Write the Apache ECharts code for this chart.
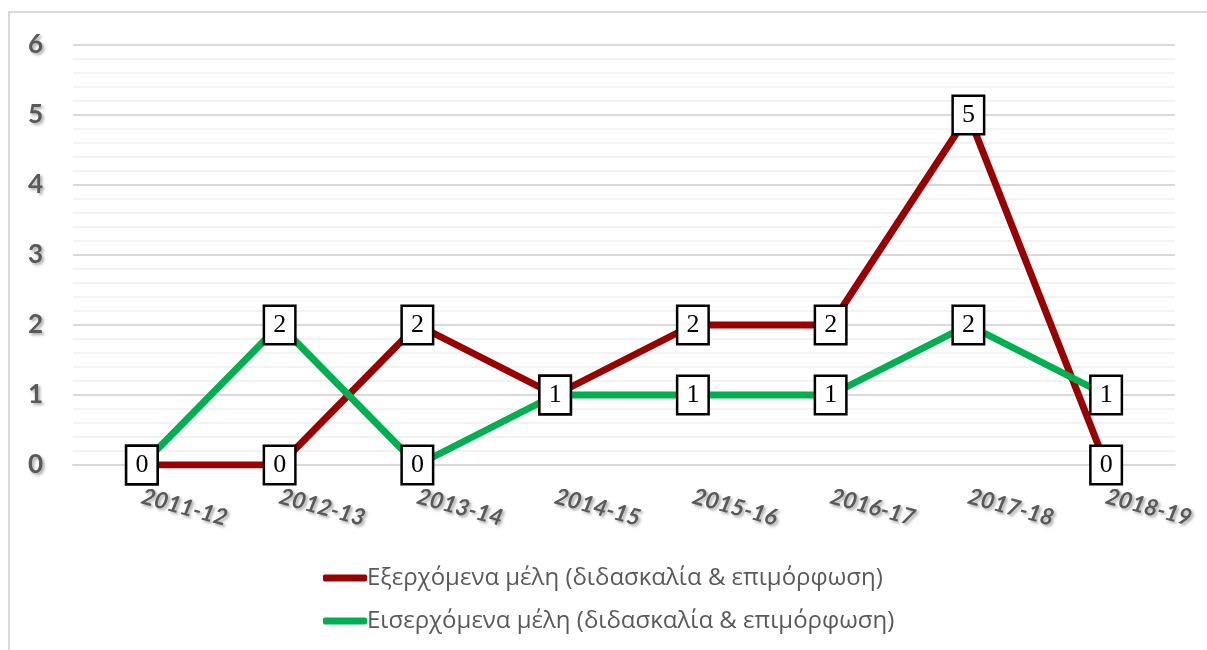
<!DOCTYPE html>
<html>
<head>
<meta charset="utf-8">
<script src="https://cdn.jsdelivr.net/npm/echarts@6/dist/echarts.min.js"></script>
<style>
  html, body { margin: 0; padding: 0; background: #fff; }
  #frame {
    position: absolute; left: 8px; top: 11px; width: 1199px; height: 639px;
    border-left: 2px solid #d9d9d9; border-top: 2px solid #d9d9d9;
  }
  #chart { position: absolute; left: 0; top: 0; width: 1207px; height: 650px; }
</style>
</head>
<body>
<div id="frame"></div>
<div id="chart"></div>
<script>
// Ακαδημαϊκά έτη
const years = ['2011-12', '2012-13', '2013-14', '2014-15', '2015-16', '2016-17', '2017-18', '2018-19']
// Εξερχόμενα / Εισερχόμενα μέλη
const outgoing = [0, 0, 2, 1, 2, 2, 5, 0]
const incoming = [0, 2, 0, 1, 1, 1, 2, 1]
const seriesNames = [
  'Εξερχόμενα μέλη (διδασκαλία & επιμόρφωση)',
  'Εισερχόμενα μέλη (διδασκαλία & επιμόρφωση)',
]

const shadow = {
  textShadowColor: 'rgba(0,0,0,0.35)',
  textShadowBlur: 3,
  textShadowOffsetX: 2,
  textShadowOffsetY: 2,
}

const boxLabel = {
  show: true,
  position: 'inside',
  fontFamily: 'Liberation Serif',
  fontSize: 26,
  lineHeight: 28,
  color: '#000',
  backgroundColor: '#fff',
  borderColor: '#000',
  borderWidth: 2.5,
  padding: [5, 8, 3, 8],
}

const makeSeries = (name, data, color, z) => ({
  name,
  type: 'line',
  data,
  z,
  symbol: 'rect',
  symbolSize: 1,
  lineStyle: { color, width: 7 },
  itemStyle: { color },
  label: boxLabel,
  emphasis: { disabled: true },
})

const myChart = echarts.init(document.getElementById('chart'))
myChart.setOption({
  animation: false,
  grid: { left: 73, right: 32, top: 45, bottom: 185 },
  xAxis: {
    type: 'category',
    data: years,
    axisLine: { show: true, lineStyle: { color: '#d9d9d9', width: 2 } },
    axisTick: { show: false },
    axisLabel: {
      rotate: -15,
      margin: 31,
      fontFamily: 'Lato',
      fontSize: 23,
      fontWeight: 'bold',
      fontStyle: 'italic',
      color: '#595959',
      ...shadow,
    },
  },
  yAxis: {
    type: 'value',
    min: 0,
    max: 6,
    interval: 1,
    axisLine: { show: false },
    axisTick: { show: false },
    axisLabel: {
      margin: 30,
      fontFamily: 'Lato',
      fontSize: 26,
      fontWeight: 'bold',
      color: '#595959',
      ...shadow,
    },
    splitLine: { show: true, lineStyle: { color: '#d9d9d9', width: 2 } },
    minorTick: { show: false, splitNumber: 5 },
    minorSplitLine: { show: true, lineStyle: { color: '#f2f2f2', width: 2 } },
  },
  legend: {
    orient: 'vertical',
    left: 318,
    top: 561,
    itemGap: 19,
    itemWidth: 44,
    itemHeight: 7,
    icon: 'roundRect',
    textStyle: { fontFamily: 'Open Sans', fontSize: 24, color: '#595959', padding: [0, 0, 0, -5] },
    data: seriesNames,
  },
  series: [
    makeSeries(seriesNames[0], outgoing, '#990000', 2),
    makeSeries(seriesNames[1], incoming, '#00b050', 3),
  ],
})
</script>
</body>
</html>
